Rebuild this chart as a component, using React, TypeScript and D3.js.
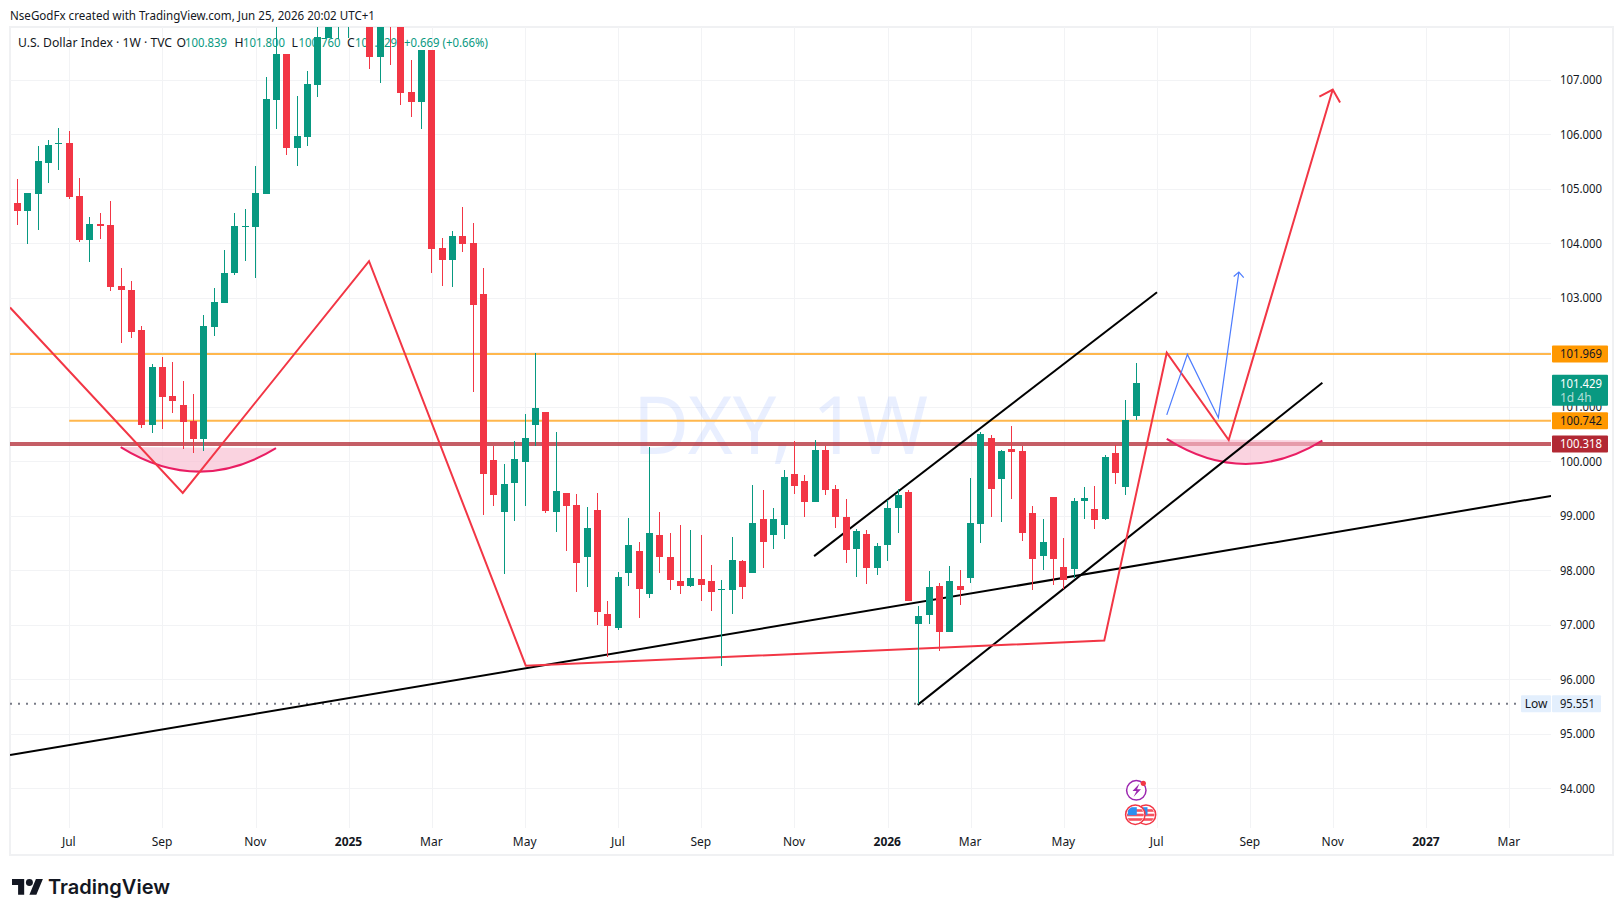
import React from 'react';
import * as d3 from 'd3';

const opens = [104.73,104.60,104.91,105.48,105.82,105.83,104.86,104.05,104.36,104.33,103.21,103.15,102.40,100.66,101.73,101.19,101.03,100.74,100.41,102.46,102.90,103.45,104.30,104.29,104.91,106.63,107.48,105.75,105.94,106.91,107.76,108.30,108.20,108.60,108.40,107.42,108.50,108.20,106.78,106.60,107.55,103.91,103.70,104.14,104.00,103.06,100.02,99.07,99.60,99.99,100.66,100.90,99.07,99.42,99.20,98.25,99.11,97.20,96.95,97.95,98.36,97.57,98.65,98.25,97.81,97.71,97.84,97.81,97.63,97.64,98.17,97.95,98.94,98.65,98.83,99.77,99.64,99.25,100.21,99.49,98.98,98.39,98.67,98.04,98.47,99.14,99.44,97.02,97.18,97.71,96.87,97.71,97.86,98.85,100.43,99.67,100.22,100.19,99.05,98.26,99.34,98.06,98.03,99.27,99.12,98.94,100.15,99.53,100.839];
const highs = [105.17,104.93,105.79,105.90,106.12,106.05,105.19,104.49,104.55,104.78,103.54,103.30,102.48,101.78,101.91,101.83,101.47,101.23,102.68,103.17,103.87,104.56,104.62,105.42,107.05,108.10,107.48,106.71,107.16,108.20,108.60,109.00,108.80,109.00,108.70,108.40,108.70,108.50,107.37,107.55,107.55,104.09,104.22,104.67,104.38,103.54,100.28,99.95,100.37,100.86,101.98,100.90,100.53,99.42,99.40,99.16,99.42,97.44,97.97,98.96,98.52,100.26,99.07,98.68,98.83,98.74,98.65,98.10,97.82,98.61,98.19,99.56,99.47,99.14,99.84,100.37,99.75,100.39,100.28,99.56,99.31,98.76,98.74,98.50,99.29,99.49,99.47,97.35,97.99,97.77,98.08,98.01,99.69,100.53,100.48,100.21,100.65,100.28,99.18,98.94,99.34,98.59,99.33,99.53,99.55,100.11,100.30,101.12,101.80];
const lows = [104.33,103.98,104.25,105.11,105.35,104.82,104.03,103.65,104.07,103.12,102.17,102.27,100.61,100.52,100.59,100.88,100.22,100.15,100.19,102.29,102.90,103.41,103.67,103.37,104.91,106.10,105.61,105.41,105.79,106.69,107.76,107.74,107.76,108.10,107.20,106.94,107.27,106.54,106.32,106.10,103.45,103.21,103.19,103.83,101.27,99.01,99.18,97.93,98.90,99.18,100.28,99.05,98.70,98.36,97.60,97.70,97.00,96.40,96.91,97.71,97.13,97.49,97.95,97.64,97.57,97.70,97.44,97.26,96.25,97.20,97.48,97.95,98.04,98.39,98.58,99.40,98.98,99.25,99.38,98.78,98.14,97.88,97.75,97.92,98.17,98.69,97.44,95.551,97.02,96.51,96.87,97.37,97.77,98.50,98.98,98.89,99.31,98.54,97.64,98.00,97.73,97.66,97.86,98.94,98.76,98.92,99.58,99.38,100.76];
const closes = [104.60,104.93,105.50,105.81,105.83,104.84,104.05,104.36,104.31,103.19,103.14,102.38,100.66,101.73,101.18,101.10,100.72,100.41,102.48,102.92,103.45,104.31,104.31,104.93,106.65,107.48,105.75,105.96,106.93,107.79,108.40,108.90,108.60,108.20,107.42,108.30,108.00,106.76,106.60,107.55,103.89,103.70,104.14,103.98,102.86,99.77,99.38,99.58,100.04,100.43,100.97,99.09,99.45,99.18,98.14,98.78,97.24,96.98,97.88,98.47,97.66,98.68,98.25,97.82,97.71,97.86,97.73,97.60,97.66,98.19,97.70,98.87,98.52,98.94,99.71,99.55,99.25,100.21,99.47,98.98,98.37,98.72,98.04,98.45,99.14,99.38,97.44,97.17,97.70,96.87,97.81,97.64,98.87,100.50,99.49,100.19,100.17,98.69,98.21,98.52,98.21,97.82,99.27,99.33,98.92,100.08,99.78,100.75,101.429];

const priceTicks = [94,95,96,97,98,99,100,101,102,103,104,105,106,107];
const timeWeeks = [5,14,23,32,40,49,58,66,75,84,92,101,110,119,127,136,144];
const timeLabels = ['Jul','Sep','Nov','2025','Mar','May','Jul','Sep','Nov','2026','Mar','May','Jul','Sep','Nov','2027','Mar'];
const timeBold = ['2025','2026','2027'];

const levelHigh = 101.969;
const levelMid = 100.742;
const levelSupport = 100.318;
const lastClose = 101.429;
const lowPrice = 95.551;
const levelMidStartWeek = 5;

type Pt = [number, number];
const redPath: Pt[] = [[-0.71,102.82],[15.96,99.42],[33.94,103.67],[49.07,96.25],[104.91,96.71],[110.94,101.99],[116.92,100.39],[126.96,106.82]];
const redHead: Pt[] = [[125.67,106.69],[126.96,106.82],[127.67,106.58]];
const bluePath: Pt[] = [[110.94,100.85],[112.93,101.96],[115.92,100.80],[117.9,103.47]];
const blueHead: Pt[] = [[117.4,103.39],[117.9,103.47],[118.37,103.37]];
const trendLong: Pt[] = [[-0.71,94.61],[148.2,99.37]];
const trendUpper: Pt[] = [[76.9,98.26],[110.0,103.10]];
const trendLower: Pt[] = [[86.9,95.53],[125.96,101.44]];
const arcLeft: Pt[] = [[9.97,100.26],[17.5,99.37],[24.96,100.24]];
const arcRight: Pt[] = [[110.94,100.41],[118.45,99.505],[125.96,100.38]];

const attribution = 'NseGodFx created with TradingView.com, Jun 25, 2026 20:02 UTC+1';
const legendTitle = 'U.S. Dollar Index · 1W · TVC';
const legendKeys = ['O','H','L','C'];
const legendVals = ['100.839','101.800','100.760','101.429'];
const legendChange = '+0.669 (+0.66%)';
const watermark = 'DXY, 1W';

const W = 1623, H = 916;
const plot = { l: 10, r: 1551, t: 27, b: 828 };
const FONT = "'Noto Sans', sans-serif";
const GREEN = '#089981', RED = '#f23645', GRID = '#f2f3f5', INK = '#131722';
const PRICE_W = 42;

const x = d3.scaleLinear().domain([0, 108]).range([17.4, 1136.3]);
const y = d3.scaleLinear().domain([94, 107]).range([788.3, 79.7]);
const line = d3.line<Pt>().x(d => x(d[0])).y(d => y(d[1]));
const fmt = d3.format('.3f');

function arcPath(a: Pt[]) {
  const p = d3.path();
  p.moveTo(x(a[0][0]), y(a[0][1]));
  p.quadraticCurveTo(x(a[1][0]), y(a[1][1]), x(a[2][0]), y(a[2][1]));
  return p.toString();
}

function Arc({ pts }: { pts: Pt[] }) {
  const d = arcPath(pts);
  return (
    <g>
      <path d={d + 'Z'} fill="#f8bbd0" fillOpacity={0.65} />
      <path d={d} fill="none" stroke="#e91e63" strokeWidth={2} />
    </g>
  );
}

function Price({ p, py, fill, opacity }: { p: string; py: number; fill: string; opacity?: number }) {
  return (
    <text x={1560} y={py} fontSize={12} fill={fill} fillOpacity={opacity}
      textLength={p.length === 7 ? PRICE_W : PRICE_W * 0.83} lengthAdjust="spacingAndGlyphs">{p}</text>
  );
}

function PriceTag({ price, bg, fg }: { price: number; bg: string; fg: string }) {
  const cy = y(price);
  return (
    <g>
      <rect x={1552} y={cy - 8.5} width={56} height={17} rx={1} fill={bg} />
      <Price p={fmt(price)} py={cy + 4.2} fill={fg} />
    </g>
  );
}

function Flag({ cx, cy, id }: { cx: number; cy: number; id: string }) {
  return (
    <g>
      <clipPath id={id}><circle cx={cx} cy={cy} r={8.5} /></clipPath>
      <circle cx={cx} cy={cy} r={9.7} fill="#fff" stroke={RED} strokeWidth={1.5} />
      <g clipPath={`url(#${id})`}>
        <rect x={cx - 9} y={cy - 9} width={18} height={18} fill="#fff" />
        {[-5.5, -1, 3.5].map((o, i) => (
          <rect key={i} x={cx - 9} y={cy + o} width={18} height={2.6} fill="#f7525f" />
        ))}
        <rect x={cx - 7.5} y={cy - 7.5} width={9} height={8} fill="#2e8ff0" />
      </g>
    </g>
  );
}

export default function App() {
  const bars = opens.map((o, i) => ({ i, o, h: highs[i], l: lows[i], c: closes[i] }));
  return (
    <svg width={W} height={H} viewBox={`0 0 ${W} ${H}`} fontFamily={FONT}
      style={{ position: 'absolute', left: 0, top: 0, display: 'block', background: '#fff' }}>
      <defs>
        <clipPath id="plot"><rect x={plot.l} y={plot.t} width={plot.r - plot.l} height={plot.b - plot.t} /></clipPath>
      </defs>
      <text x={10} y={19.5} fontSize={12.3} fill={INK} textLength={365} lengthAdjust="spacingAndGlyphs">{attribution}</text>
      <rect x={10} y={27} width={1603} height={828} fill="none" stroke="#f0f1f3" strokeWidth={2} />

      <g stroke={GRID} strokeWidth={1} shapeRendering="crispEdges">
        {priceTicks.map(p => <line key={p} x1={plot.l} x2={plot.r} y1={Math.round(y(p))} y2={Math.round(y(p))} />)}
        {timeWeeks.map(w => <line key={w} x1={Math.round(x(w))} x2={Math.round(x(w))} y1={plot.t} y2={plot.b} />)}
      </g>

      <text x={633} y={454} fontSize={80} fill="#2962ff" fillOpacity={0.1} textLength={295} lengthAdjust="spacingAndGlyphs">{watermark}</text>

      <g fontSize={12.2}>
        <text x={18} y={46.5} fill={INK}>{legendTitle}</text>
        {legendKeys.map((k, i) => {
          const left = [176.5, 234.5, 291.5, 347][i];
          const val = [185, 243, 298.5, 355][i];
          return (
            <g key={k}>
              <text x={left} y={46.5} fill={INK}>{k}</text>
              <text x={val} y={46.5} fill={GREEN} textLength={42} lengthAdjust="spacingAndGlyphs">{legendVals[i]}</text>
            </g>
          );
        })}
        <text x={404} y={46.5} fill={GREEN} textLength={84} lengthAdjust="spacingAndGlyphs">{legendChange}</text>
      </g>

      <g clipPath="url(#plot)">
        <line x1={plot.l} x2={plot.r} y1={y(levelSupport)} y2={y(levelSupport)} stroke="#b22833" strokeOpacity={0.75} strokeWidth={4} />
        <line x1={plot.l} x2={plot.r} y1={y(levelHigh)} y2={y(levelHigh)} stroke="#ffb74d" strokeWidth={2} />
        <line x1={x(levelMidStartWeek)} x2={plot.r} y1={y(levelMid)} y2={y(levelMid)} stroke="#ffb74d" strokeWidth={2} />
        <line x1={plot.l} x2={1517} y1={y(lowPrice)} y2={y(lowPrice)} stroke="#787b86" strokeWidth={2} strokeDasharray="2 6" />
        <Arc pts={arcLeft} />
        <Arc pts={arcRight} />
        <g fill="none" stroke="#000" strokeWidth={2}>
          <path d={line(trendLong)!} />
          <path d={line(trendUpper)!} />
          <path d={line(trendLower)!} />
        </g>
        <g fill="none" stroke={RED} strokeWidth={2}>
          <path d={line(redPath)!} />
          <path d={line(redHead)!} />
        </g>
        <g fill="none" stroke="#4d7cfe" strokeWidth={1.2}>
          <path d={line(bluePath)!} />
          <path d={line(blueHead)!} />
        </g>

        <g shapeRendering="crispEdges">
          {bars.map(b => {
            const col = b.c >= b.o ? GREEN : RED;
            const px = Math.floor(x(b.i));
            const top = Math.round(y(Math.max(b.o, b.c)));
            const bot = Math.round(y(Math.min(b.o, b.c)));
            return (
              <g key={b.i} fill={col}>
                <rect x={px} y={y(b.h)} width={1} height={y(b.l) - y(b.h)} />
                <rect x={px - 3} y={top} width={7} height={Math.max(1, bot - top)} />
              </g>
            );
          })}
        </g>
      </g>

      <g>
        <circle cx={1136.3} cy={790.3} r={9.7} fill="#fff" stroke="#9c27b0" strokeWidth={1.5} />
        <path d="M1139.5 783.5 L1132.5 791 L1136.5 791 L1133.5 797 L1141 789.3 L1137 789.3 Z" fill="#9c27b0" />
        <circle cx={1143.3} cy={783.3} r={2.6} fill={RED} />
        <Flag cx={1146} cy={814.7} id="flagB" />
        <Flag cx={1135.3} cy={814.7} id="flagA" />
      </g>

      <g>
        {priceTicks.map(p => (
          <Price key={p} p={fmt(p)} py={y(p) + 4.3} fill={INK} />
        ))}
      </g>
      <g fontSize={12} fill={INK} textAnchor="middle">
        {timeLabels.map((t, i) => (
          <text key={i} x={x(timeWeeks[i]) - 0.4} y={846} fontWeight={timeBold.includes(t) ? 700 : 400}>{t}</text>
        ))}
      </g>

      <PriceTag price={levelHigh} bg="#ff9800" fg={INK} />
      <PriceTag price={levelMid} bg="#ff9800" fg={INK} />
      <PriceTag price={levelSupport} bg="#b22833" fg="#fff" />
      <g>
        <rect x={1552} y={y(lastClose) - 8.5} width={56} height={31} rx={1} fill={GREEN} />
        <Price p={fmt(lastClose)} py={y(lastClose) + 4.2} fill="#fff" />
        <text x={1560} y={y(lastClose) + 19} fontSize={12} fill="#fff" fillOpacity={0.7}>1d 4h</text>
      </g>

      <g>
        <rect x={1521} y={y(lowPrice) - 8.5} width={30} height={17} rx={1} fill="#e3effd" />
        <rect x={1552} y={y(lowPrice) - 8.5} width={49} height={17} rx={1} fill="#e3effd" />
        <text x={1536} y={y(lowPrice) + 4.2} textAnchor="middle" fontSize={12} fill={INK}>Low</text>
        <Price p={fmt(lowPrice)} py={y(lowPrice) + 4.2} fill={INK} />
      </g>

      <g transform="translate(12 875.5) scale(0.87)" fill={INK}>
        <path d="M14 22H7V11H0V4h14v18ZM28 22h-8l7.5-18h8L28 22Z" />
        <circle cx={20} cy={8} r={4} />
      </g>
      <text x={48} y={894} fontFamily="Inter, sans-serif" fontWeight={600} fontSize={20} fill={INK} textLength={122} lengthAdjust="spacingAndGlyphs">TradingView</text>
    </svg>
  );
}
